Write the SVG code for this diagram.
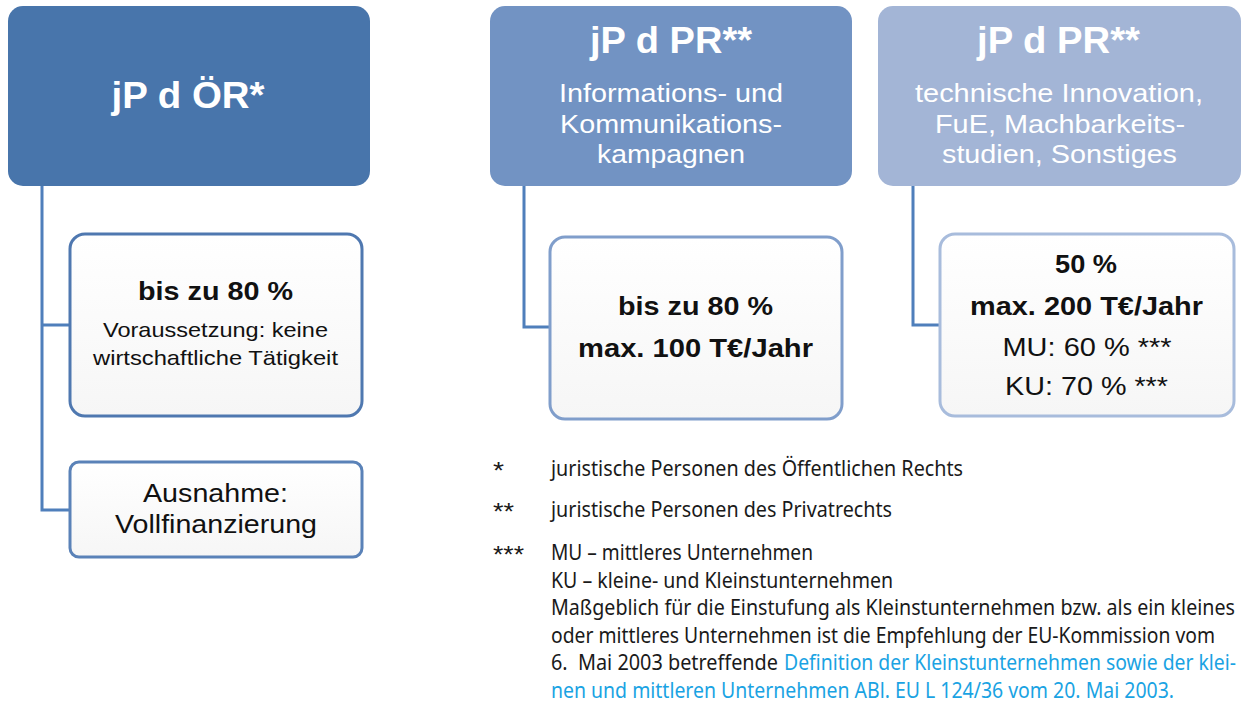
<svg xmlns="http://www.w3.org/2000/svg" width="1243" height="704" viewBox="0 0 1243 704">
<defs>
<linearGradient id="cg" x1="0" y1="0" x2="0" y2="1">
<stop offset="0" stop-color="#ffffff"/>
<stop offset="1" stop-color="#f6f6f6"/>
</linearGradient>
<style>
.hd{font-family:"Liberation Sans",Arial,sans-serif;fill:#ffffff;text-anchor:middle}
.t{font-weight:bold;font-size:36px}
.s{font-size:25px}
.ct{font-family:"Liberation Sans",Arial,sans-serif;fill:#111111;text-anchor:middle}
.b{font-weight:bold;font-size:26px}
.n{font-size:26px}
.sm{font-size:21px}
.fn{font-family:"Noto Sans","Open Sans",sans-serif;font-size:21px;fill:#1a1a1a}
.st{font-family:"Liberation Sans",Arial,sans-serif;font-size:24px;fill:#1a1a1a}
.lk{fill:#1aa3e3}
.cb{fill:url(#cg);stroke-width:3}
.con{fill:none;stroke:#4f7fbb;stroke-width:3}
</style>
</defs>
<rect width="1243" height="704" fill="#ffffff"/>

<g id="connectors">
<path class="con" d="M42,186 V510 H70 M42,325 H70"/>
<path class="con" d="M524,186 V327 H550"/>
<path class="con" d="M913,186 V325 H940"/>
</g>

<g id="head1">
<rect x="8" y="6" width="362" height="180" rx="15" fill="#4875ab"/>
<text class="hd t" x="188" y="108" textLength="153" lengthAdjust="spacingAndGlyphs">jP d ÖR*</text>
</g>

<g id="head2">
<rect x="490" y="6" width="362" height="180" rx="15" fill="#7293c3"/>
<text class="hd t" x="671" y="53" textLength="162" lengthAdjust="spacingAndGlyphs">jP d PR**</text>
<text class="hd s" x="671" y="102" textLength="224" lengthAdjust="spacingAndGlyphs">Informations- und</text>
<text class="hd s" x="671" y="133" textLength="222" lengthAdjust="spacingAndGlyphs">Kommunikations-</text>
<text class="hd s" x="671" y="163" textLength="148" lengthAdjust="spacingAndGlyphs">kampagnen</text>
</g>

<g id="head3">
<rect x="878" y="6" width="363" height="180" rx="15" fill="#a3b5d6"/>
<text class="hd t" x="1058.5" y="53" textLength="163" lengthAdjust="spacingAndGlyphs">jP d PR**</text>
<text class="hd s" x="1059" y="102" textLength="288" lengthAdjust="spacingAndGlyphs">technische Innovation,</text>
<text class="hd s" x="1060" y="133" textLength="250" lengthAdjust="spacingAndGlyphs">FuE, Machbarkeits-</text>
<text class="hd s" x="1059.5" y="163" textLength="235" lengthAdjust="spacingAndGlyphs">studien, Sonstiges</text>
</g>

<g id="child1">
<rect class="cb" x="70" y="234" width="292" height="182" rx="15" stroke="#4f78b0"/>
<text class="ct b" x="215.5" y="300" textLength="155" lengthAdjust="spacingAndGlyphs">bis zu 80 %</text>
<text class="ct sm" x="215.5" y="337" textLength="225" lengthAdjust="spacingAndGlyphs">Voraussetzung: keine</text>
<text class="ct sm" x="215.5" y="365" textLength="245" lengthAdjust="spacingAndGlyphs">wirtschaftliche Tätigkeit</text>
</g>

<g id="child2">
<rect class="cb" x="70" y="462" width="292" height="95" rx="9" stroke="#5a82b8"/>
<text class="ct n" x="215.5" y="502" textLength="145" lengthAdjust="spacingAndGlyphs">Ausnahme:</text>
<text class="ct n" x="216" y="533" textLength="202" lengthAdjust="spacingAndGlyphs">Vollfinanzierung</text>
</g>

<g id="child3">
<rect class="cb" x="550" y="237" width="292" height="182" rx="15" stroke="#809ecb"/>
<text class="ct b" x="695.5" y="315" textLength="155" lengthAdjust="spacingAndGlyphs">bis zu 80 %</text>
<text class="ct b" x="695.5" y="357" textLength="235" lengthAdjust="spacingAndGlyphs">max. 100 T€/Jahr</text>
</g>

<g id="child4">
<rect class="cb" x="940" y="234" width="294" height="182" rx="15" stroke="#a8bcdc"/>
<text class="ct b" x="1086" y="273" textLength="62" lengthAdjust="spacingAndGlyphs">50 %</text>
<text class="ct b" x="1086.5" y="315" textLength="233" lengthAdjust="spacingAndGlyphs">max. 200 T€/Jahr</text>
<text class="ct n" x="1087" y="356" textLength="169" lengthAdjust="spacingAndGlyphs">MU: 60 % ***</text>
<text class="ct n" x="1086.5" y="395" textLength="163" lengthAdjust="spacingAndGlyphs">KU: 70 % ***</text>
</g>

<g id="footnotes">
<text class="st" x="493" y="479" textLength="11" lengthAdjust="spacingAndGlyphs">*</text>
<text class="fn" x="551" y="476" textLength="412" lengthAdjust="spacingAndGlyphs">juristische Personen des Öffentlichen Rechts</text>
<text class="st" x="493" y="520" textLength="21" lengthAdjust="spacingAndGlyphs">**</text>
<text class="fn" x="551" y="517" textLength="341" lengthAdjust="spacingAndGlyphs">juristische Personen des Privatrechts</text>
<text class="st" x="493" y="563" textLength="31" lengthAdjust="spacingAndGlyphs">***</text>
<text class="fn" x="551" y="560" textLength="262" lengthAdjust="spacingAndGlyphs">MU – mittleres Unternehmen</text>
<text class="fn" x="551" y="588" textLength="342" lengthAdjust="spacingAndGlyphs">KU – kleine- und Kleinstunternehmen</text>
<g transform="translate(551,615) scale(0.85,1)">
<text class="fn" x="0" y="0" textLength="804.7" lengthAdjust="spacingAndGlyphs">Maßgeblich für die Einstufung als Kleinstunternehmen bzw. als ein kleines</text>
</g>
<g transform="translate(551,643) scale(0.85,1)">
<text class="fn" x="0" y="0" textLength="781.2" lengthAdjust="spacingAndGlyphs">oder mittleres Unternehmen ist die Empfehlung der EU-Kommission vom</text>
</g>
<text class="fn" x="551" y="670" textLength="227" lengthAdjust="spacingAndGlyphs" xml:space="preserve">6.  Mai 2003 betreffende</text>
<g transform="translate(784,670) scale(0.82,1)">
<text class="fn lk" x="0" y="0" textLength="551.2" lengthAdjust="spacingAndGlyphs">Definition der Kleinstunternehmen sowie der klei-</text>
</g>
<text class="fn lk" x="551" y="698" textLength="623" lengthAdjust="spacingAndGlyphs">nen und mittleren Unternehmen ABl. EU L 124/36 vom 20. Mai 2003.</text>
</g>
</svg>
